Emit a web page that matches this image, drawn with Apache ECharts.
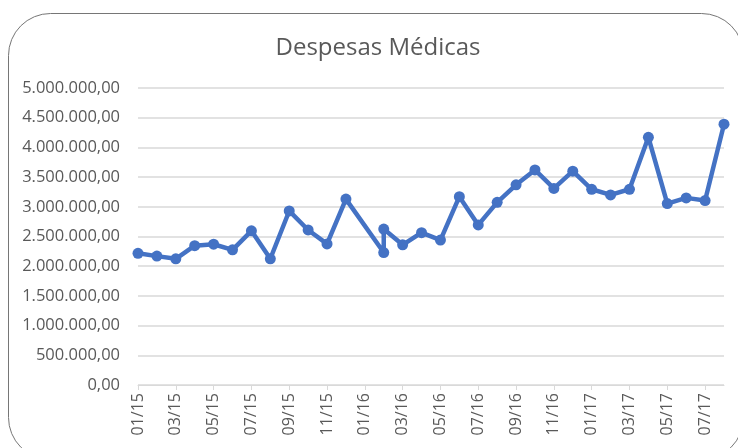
<!DOCTYPE html>
<html>
<head>
<meta charset="utf-8">
<script src="https://cdn.jsdelivr.net/npm/echarts@6/dist/echarts.min.js"></script>
<style>
  html, body { margin: 0; padding: 0; background: #fff; }
  #chart { width: 738px; height: 448px; }
</style>
</head>
<body>
<div id="chart"></div>
<script>
// months on the date axis (mm/yy)
const months = [
  '01/15', '02/15', '03/15', '04/15', '05/15', '06/15', '07/15', '08/15',
  '09/15', '10/15', '11/15', '12/15', '01/16', '02/16', '03/16', '04/16',
  '05/16', '06/16', '07/16', '08/16', '09/16', '10/16', '11/16', '12/16',
  '01/17', '02/17', '03/17', '04/17', '05/17', '06/17', '07/17', '08/17'
];

// points as recorded: no entry for 01/16, two entries in 02/16
const pointMonths = [
  '01/15', '02/15', '03/15', '04/15', '05/15', '06/15', '07/15', '08/15',
  '09/15', '10/15', '11/15', '12/15', '02/16', '02/16', '03/16', '04/16',
  '05/16', '06/16', '07/16', '08/16', '09/16', '10/16', '11/16', '12/16',
  '01/17', '02/17', '03/17', '04/17', '05/17', '06/17', '07/17', '08/17'
];
const despesas = [
  2217000, 2170000, 2125000, 2345000, 2370000, 2275000, 2595000, 2125000,
  2930000, 2610000, 2375000, 3130000, 2230000, 2625000, 2360000, 2565000,
  2440000, 3170000, 2695000, 3075000, 3370000, 3620000, 3310000, 3600000,
  3295000, 3200000, 3295000, 4170000, 3055000, 3150000, 3105000, 4390000
];

const fmt = (v) => {
  const s = Math.round(v).toString().replace(/\B(?=(\d{3})+(?!\d))/g, '.');
  return s + ',00';
};

const chart = echarts.init(document.getElementById('chart'), null, { renderer: 'canvas' });

chart.setOption({
  animation: false,
  backgroundColor: '#fff',
  textStyle: { fontFamily: 'Open Sans' },
  title: {
    text: 'Despesas Médicas',
    left: 373,
    top: 31,
    textAlign: 'center',
    textStyle: { fontFamily: 'Open Sans', fontWeight: 'normal', fontSize: 24, color: '#595959' }
  },
  graphic: [{
    type: 'rect',
    shape: { x: 8.5, y: 13.5, width: 735, height: 446, r: 42 },
    style: { fill: 'none', stroke: '#767676', lineWidth: 1 },
    silent: true,
    z: -1
  }],
  grid: { left: 138, right: 14, top: 88, bottom: 63, containLabel: false },
  xAxis: {
    type: 'category',
    data: months,
    boundaryGap: false,
    axisLine: { lineStyle: { color: '#d9d9d9', width: 1 } },
    axisTick: { show: true, interval: 1, length: 5, lineStyle: { color: '#d9d9d9' } },
    axisLabel: { interval: 1, rotate: 90, margin: 8, fontSize: 16, color: '#595959', fontFamily: 'Open Sans' },
    splitLine: { show: false }
  },
  yAxis: {
    type: 'value',
    min: 0,
    max: 5000000,
    interval: 500000,
    axisLine: { show: false },
    axisTick: { show: false },
    axisLabel: { formatter: fmt, margin: 18, fontSize: 16.5, color: '#595959', fontFamily: 'Open Sans' },
    splitLine: { lineStyle: { color: '#d9d9d9', width: 1.5 } }
  },
  series: [{
    name: 'Despesas Médicas',
    type: 'line',
    data: pointMonths.map((m, i) => [m, despesas[i]]),
    symbol: 'circle',
    symbolSize: 11,
    lineStyle: { color: '#4472c4', width: 4.5, join: 'round' },
    itemStyle: { color: '#4472c4' }
  }]
});
</script>
</body>
</html>
